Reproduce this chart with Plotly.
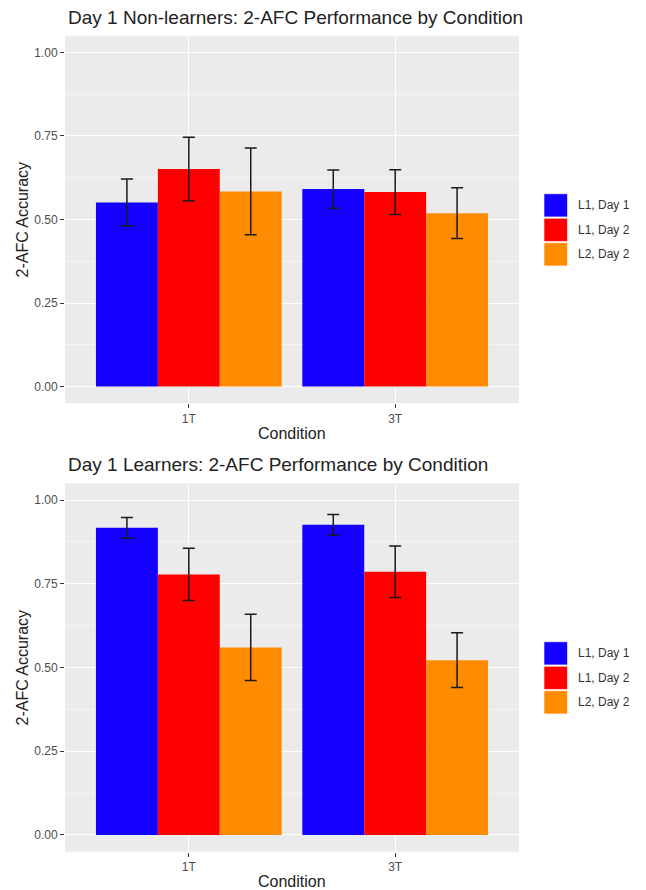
import plotly.graph_objects as go

# ---------------- data ----------------
conditions = ["1T", "3T"]
series_names = ["L1, Day 1", "L1, Day 2", "L2, Day 2"]
series_colors = ["#1500FF", "#FF0000", "#FF8C00"]
y_ticks = [0.0, 0.25, 0.5, 0.75, 1.0]

nonlearners_l1_day1 = [0.551, 0.591]
nonlearners_l1_day2 = [0.651, 0.582]
nonlearners_l2_day2 = [0.584, 0.519]
nonlearners_l1_day1_err = [0.070, 0.057]
nonlearners_l1_day2_err = [0.095, 0.067]
nonlearners_l2_day2_err = [0.130, 0.076]

learners_l1_day1 = [0.917, 0.926]
learners_l1_day2 = [0.778, 0.786]
learners_l2_day2 = [0.560, 0.522]
learners_l1_day1_err = [0.031, 0.031]
learners_l1_day2_err = [0.078, 0.077]
learners_l2_day2_err = [0.099, 0.082]

titles = ["Day 1 Non-learners: 2-AFC Performance by Condition",
          "Day 1 Learners: 2-AFC Performance by Condition"]

# ---------------- layout helpers ----------------
W, H = 646, 890
FONT = "Liberation Sans, Arial, Helvetica, sans-serif"


def px_x(p):
    return p / W


def px_y(p):
    return 1 - p / H


panels = [
    dict(top=35.7, bottom=403.3, xa="x", ya="y", xaxis="xaxis", yaxis="yaxis",
         vals=[nonlearners_l1_day1, nonlearners_l1_day2, nonlearners_l2_day2],
         errs=[nonlearners_l1_day1_err, nonlearners_l1_day2_err, nonlearners_l2_day2_err]),
    dict(top=483.3, bottom=851.7, xa="x2", ya="y2", xaxis="xaxis2", yaxis="yaxis2",
         vals=[learners_l1_day1, learners_l1_day2, learners_l2_day2],
         errs=[learners_l1_day1_err, learners_l1_day2_err, learners_l2_day2_err]),
]
left_px, right_px = 65.0, 519.0

fig = go.Figure()
layout = dict(
    width=W, height=H,
    margin=dict(l=0, r=0, t=0, b=0),
    paper_bgcolor="white",
    plot_bgcolor="#EBEBEB",
    barmode="group",
    bargap=0.1,
    bargroupgap=0.0,
    showlegend=False,
    font=dict(family=FONT, color="#333333"),
)
shapes = []
annotations = []

for pi, p in enumerate(panels):
    for si in range(3):
        fig.add_trace(go.Bar(
            x=conditions,
            y=p["vals"][si],
            name=series_names[si],
            marker=dict(color=series_colors[si], line=dict(width=0)),
            error_y=dict(type="data", array=p["errs"][si], visible=True,
                         color="#1a1a1a", thickness=1.5, width=6),
            xaxis=p["xa"], yaxis=p["ya"],
            showlegend=False,
        ))
    dom_y = [px_y(p["bottom"]), px_y(p["top"])]
    layout[p["xaxis"]] = dict(
        domain=[px_x(left_px), px_x(right_px)],
        anchor=p["ya"], type="category", range=[-0.6, 1.6],
        showgrid=True, gridcolor="white", gridwidth=1.2,
        ticks="outside", ticklen=4, tickcolor="#333333", tickwidth=1,
        tickfont=dict(size=12, color="#4D4D4D", family=FONT),
        showline=False, zeroline=False, automargin=False, fixedrange=True,
    )
    layout[p["yaxis"]] = dict(
        domain=dom_y, anchor=p["xa"], range=[-0.05, 1.05],
        tickvals=y_ticks, tickformat=".2f",
        showgrid=True, gridcolor="white", gridwidth=1.2,
        minor=dict(tickvals=[0.125, 0.375, 0.625, 0.875], showgrid=True,
                   gridcolor="#F5F5F5", gridwidth=0.6, ticks=""),
        ticks="outside", ticklen=4, tickcolor="#333333", tickwidth=1,
        tickfont=dict(size=12, color="#4D4D4D", family=FONT),
        showline=False, zeroline=False, automargin=False, fixedrange=True,
    )

    # panel title
    annotations.append(dict(
        text=titles[pi], xref="paper", yref="paper",
        x=px_x(66), y=px_y(p["top"] - 18.5), xanchor="left", yanchor="middle",
        showarrow=False, font=dict(size=19, color="#222222", family=FONT),
    ))
    # x axis title
    annotations.append(dict(
        text="Condition", xref="paper", yref="paper",
        x=px_x((left_px + right_px) / 2), y=px_y(p["bottom"] + 29.8),
        xanchor="center", yanchor="middle", showarrow=False,
        font=dict(size=16, color="#222222", family=FONT),
    ))
    # y axis title
    annotations.append(dict(
        text="2-AFC Accuracy", xref="paper", yref="paper",
        x=px_x(22), y=px_y((p["top"] + p["bottom"]) / 2),
        xanchor="center", yanchor="middle", textangle=-90, showarrow=False,
        font=dict(size=16, color="#222222", family=FONT),
    ))

    # legend (drawn manually to get ggplot-sized keys)
    center = (p["top"] + p["bottom"]) / 2 + 11
    pitch = 24.5
    box = 23.2
    start = center - 1.5 * pitch
    for si in range(3):
        y0 = start + si * pitch
        shapes.append(dict(
            type="rect", xref="paper", yref="paper",
            x0=px_x(544), x1=px_x(567.5), y0=px_y(y0 + box), y1=px_y(y0),
            fillcolor=series_colors[si], line=dict(color="white", width=0.6),
        ))
        annotations.append(dict(
            text=series_names[si], xref="paper", yref="paper",
            x=px_x(575.5), y=px_y(y0 + box / 2), xanchor="left", yanchor="middle",
            showarrow=False, font=dict(size=12, color="#333333", family=FONT),
        ))

layout["shapes"] = shapes
layout["annotations"] = annotations
fig.update_layout(**layout)

fig.write_html("out.html", config={"displayModeBar": False})
